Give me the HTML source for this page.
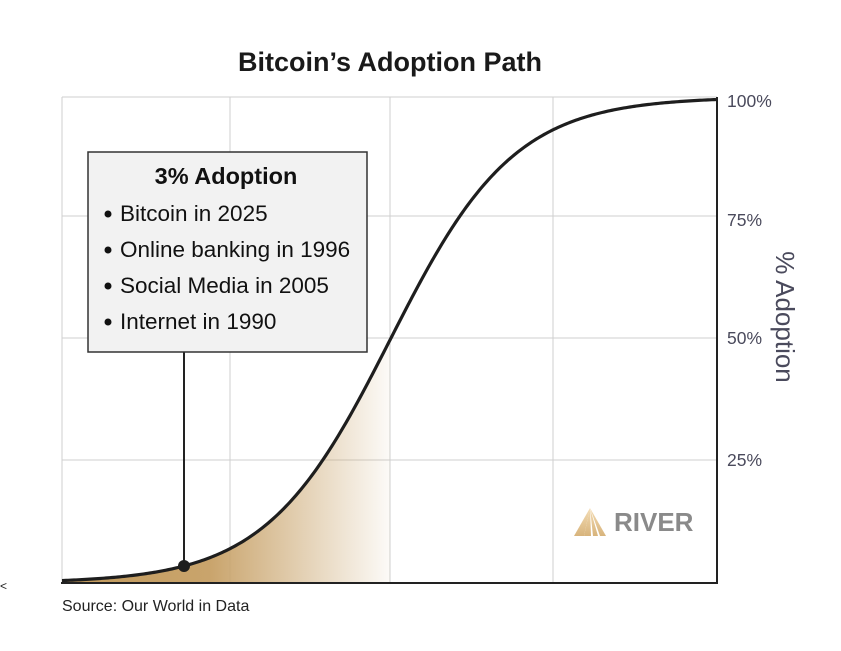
<!DOCTYPE html>
<html><head><style>
body{margin:0;background:#fff;width:841px;height:646px;overflow:hidden;font-family:"Liberation Sans",sans-serif}
</style></head><body>
<svg id="s" width="841" height="646" xmlns="http://www.w3.org/2000/svg" font-family="Liberation Sans, sans-serif">
<defs>
<linearGradient id="g" x1="62" x2="390" y1="0" y2="0" gradientUnits="userSpaceOnUse">
<stop offset="0" stop-color="#c29a5c"/>
<stop offset="0.45" stop-color="#c9a46c"/>
<stop offset="1" stop-color="#c9a46c" stop-opacity="0.05"/>
</linearGradient>
<linearGradient id="lg" x1="0" x2="0" y1="0" y2="1">
<stop offset="0" stop-color="#f3dcb4"/><stop offset="1" stop-color="#d8b47c"/>
</linearGradient>
</defs>
<text x="390" y="71" text-anchor="middle" font-size="27" font-weight="bold" fill="#1a1a1a">Bitcoin’s Adoption Path</text>
<g stroke="#cfcfcf" stroke-width="1">
<line x1="62" y1="97" x2="717" y2="97"/><line x1="62" y1="216" x2="717" y2="216"/>
<line x1="62" y1="338" x2="717" y2="338"/><line x1="62" y1="460" x2="717" y2="460"/>
<line x1="62" y1="97" x2="62" y2="583"/><line x1="230" y1="97" x2="230" y2="583"/>
<line x1="390" y1="97" x2="390" y2="583"/><line x1="553" y1="97" x2="553" y2="583"/>
</g>
<path id="fill" fill="url(#g)"/>
<line x1="717" y1="97" x2="717" y2="584" stroke="#222" stroke-width="2"/>
<line x1="61" y1="583" x2="718" y2="583" stroke="#222" stroke-width="2"/>
<path id="curve" fill="none" stroke="#1e1e1e" stroke-width="3.2"/>
<line x1="184" y1="352" x2="184" y2="566" stroke="#222" stroke-width="2"/>
<circle cx="184" cy="566" r="6" fill="#1e1e1e"/>
<rect x="88" y="152" width="279" height="200" fill="#f2f2f2" stroke="#333" stroke-width="1.5"/>
<text x="226" y="184" text-anchor="middle" font-size="23.5" font-weight="bold" fill="#111">3% Adoption</text>
<g font-size="22.5" fill="#111">
<circle cx="108" cy="214" r="3.5" fill="#111"/><text x="120" y="221">Bitcoin in 2025</text>
<circle cx="108" cy="250" r="3.5" fill="#111"/><text x="120" y="257">Online banking in 1996</text>
<circle cx="108" cy="286" r="3.5" fill="#111"/><text x="120" y="293">Social Media in 2005</text>
<circle cx="108" cy="322" r="3.5" fill="#111"/><text x="120" y="329">Internet in 1990</text>
</g>
<g font-size="17.5" fill="#4a4a5c">
<text x="727" y="107">100%</text><text x="727" y="226">75%</text>
<text x="727" y="344">50%</text><text x="727" y="466">25%</text>
</g>
<text transform="translate(776,317) rotate(90)" text-anchor="middle" font-size="26" fill="#4a4a5c">% Adoption</text>
<g fill="url(#lg)">
<polygon points="590,508 574,536 584,536"/><polygon points="590,508 584,536 591,536"/>
<polygon points="590,508 593,536 598,536"/><polygon points="590,508 600,536 606,536"/>
</g>
<text x="614" y="531" font-size="26" font-weight="bold" fill="#8a8a8a">RIVER</text>
<text x="62" y="611" font-size="16" fill="#222">Source: Our World in Data</text>
<text x="0" y="590" font-size="12" fill="#222">&lt;</text>
</svg>
<script>
function y(x){return 583-486/(1+Math.exp(-0.0161*(x-390)));}
var d="",f="M62,583";
for(var x=62;x<=717;x+=2){var p=x.toFixed(0)+","+y(x).toFixed(2);d+=(x==62?"M":"L")+p;if(x<=390)f+="L"+p;}
f+="L390,583Z";
document.getElementById("curve").setAttribute("d",d);
document.getElementById("fill").setAttribute("d",f);
</script>
</body></html>
